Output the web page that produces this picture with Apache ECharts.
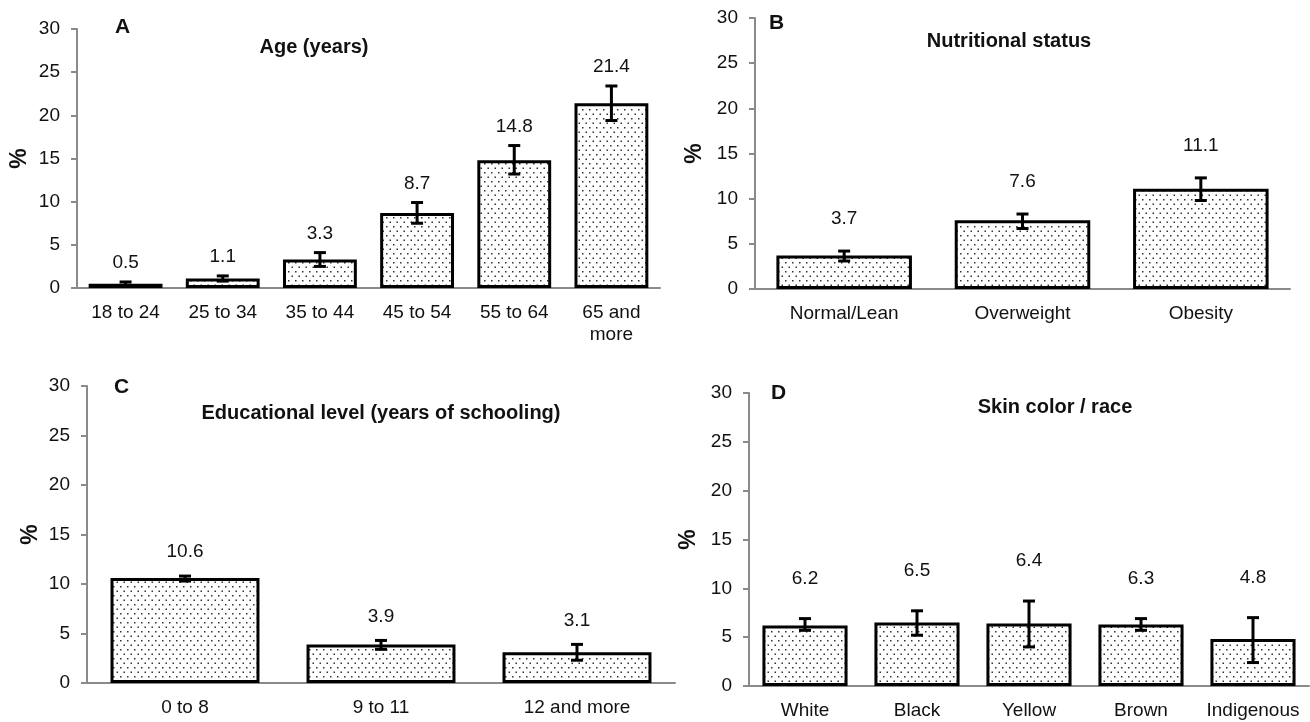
<!DOCTYPE html>
<html>
<head>
<meta charset="utf-8">
<script src="https://cdn.jsdelivr.net/npm/echarts@6/dist/echarts.min.js"></script>
<style>
html, body { margin: 0; padding: 0; background: #fff; }
#main { width: 1310px; height: 722px; }
</style>
</head>
<body>
<div id="main"></div>
<script>
// A - age
var ageCats = ['18 to 24', '25 to 34', '35 to 44', '45 to 54', '55 to 64', '65 and\nmore']
var ageVals = [0.5, 1.1, 3.3, 8.7, 14.8, 21.4]
var ageLow = [0.3, 0.8, 2.5, 7.5, 13.2, 19.4]
var ageHigh = [0.7, 1.4, 4.1, 9.9, 16.5, 23.4]
// B - nutritional status
var nutCats = ['Normal/Lean', 'Overweight', 'Obesity']
var nutVals = [3.7, 7.6, 11.1]
var nutLow = [3.1, 6.7, 9.8]
var nutHigh = [4.2, 8.3, 12.3]
// C - education
var eduCats = ['0 to 8', '9 to 11', '12 and more']
var eduVals = [10.6, 3.9, 3.1]
var eduLow = [10.3, 3.4, 2.3]
var eduHigh = [10.8, 4.3, 3.9]
// D - skin color
var raceCats = ['White', 'Black', 'Yellow', 'Brown', 'Indigenous']
var raceVals = [6.2, 6.5, 6.4, 6.3, 4.8]
var raceLow = [5.7, 5.2, 4.0, 5.7, 2.4]
var raceHigh = [6.9, 7.7, 8.7, 6.9, 7.0]

var yTicks = [0, 5, 10, 15, 20, 25, 30]

var FONT = 'Liberation Sans, Arial, sans-serif'
var axisGray = '#8a8a8a'

// dotted fill like the excel pattern
var tile = document.createElement('canvas')
tile.width = 7
tile.height = 9
var tc = tile.getContext('2d')
tc.fillStyle = '#ffffff'
tc.fillRect(0, 0, 7, 9)
tc.fillStyle = '#333'
tc.fillRect(1, 1, 1.5, 1.5)
tc.fillRect(4.5, 5.5, 1.5, 1.5)
var dots = { image: tile, repeat: 'repeat' }

var panels = [
  { cats: ageCats, vals: ageVals, low: ageLow, high: ageHigh, grid: { left: 77, top: 29, width: 583, height: 259 }, letter: 'A', letterPos: [110, 12], title: 'Age (years)', titleX: 309, titleY: 32, labelOff: 19, nameGap: 46 },
  { cats: nutCats, vals: nutVals, low: nutLow, high: nutHigh, grid: { left: 755, top: 18, width: 535, height: 271 }, letter: 'B', letterPos: [764, 8], title: 'Nutritional status', titleX: 1004, titleY: 26, labelOff: 32, nameGap: 49 },
  { cats: eduCats, vals: eduVals, low: eduLow, high: eduHigh, grid: { left: 87, top: 386, width: 588, height: 297 }, letter: 'C', letterPos: [109, 372], title: 'Educational level (years of schooling)', titleX: 376, titleY: 398, labelOff: 24, nameGap: 45 },
  { cats: raceCats, vals: raceVals, low: raceLow, high: raceHigh, grid: { left: 749, top: 393, width: 560, height: 294 }, letter: 'D', letterPos: [766, 378], title: 'Skin color / race', titleX: 1050, titleY: 392, labelOff: 40, nameGap: 49 }
]

function errorBars(off) {
  return function (params, api) {
    var i = api.value(0)
    var top = api.coord([i, api.value(1)])
    var bot = api.coord([i, api.value(2)])
    var cap = 6
    var ls = { stroke: '#000', lineWidth: 3 }
    return {
      type: 'group',
      children: [
        { type: 'line', shape: { x1: top[0], y1: top[1], x2: bot[0], y2: bot[1] }, style: ls },
        { type: 'line', shape: { x1: top[0] - cap, y1: top[1], x2: top[0] + cap, y2: top[1] }, style: ls },
        { type: 'line', shape: { x1: bot[0] - cap, y1: bot[1], x2: bot[0] + cap, y2: bot[1] }, style: ls },
        { type: 'text', style: { text: api.value(3).toFixed(1), x: top[0], y: top[1] - off, align: 'center', verticalAlign: 'middle', font: '19px ' + FONT, fill: '#111' } }
      ]
    }
  }
}

var option = { animation: false, grid: [], xAxis: [], yAxis: [], series: [], title: [] }

panels.forEach(function (p, k) {
  option.grid.push(p.grid)
  option.xAxis.push({
    type: 'category',
    gridIndex: k,
    data: p.cats,
    axisLine: { lineStyle: { color: axisGray, width: 2 } },
    axisTick: { length: 6, lineStyle: { color: axisGray, width: 2 } },
    axisLabel: { interval: 0, color: '#111', fontSize: 19, fontFamily: FONT, margin: 14, lineHeight: 22 }
  })
  option.yAxis.push({
    type: 'value',
    gridIndex: k,
    min: yTicks[0],
    max: yTicks[yTicks.length - 1],
    interval: 5,
    name: '%',
    nameLocation: 'middle',
    nameRotate: 90,
    nameGap: p.nameGap,
    nameTextStyle: { fontSize: 23, fontWeight: 'bold', fontFamily: FONT, color: '#111' },
    splitLine: { show: false },
    axisLine: { show: true, lineStyle: { color: axisGray, width: 2 } },
    axisTick: { show: true, length: 6, lineStyle: { color: axisGray, width: 2 } },
    axisLabel: { color: '#111', fontSize: 19, fontFamily: FONT, margin: 17 }
  })
  option.series.push({
    type: 'bar',
    xAxisIndex: k,
    yAxisIndex: k,
    data: p.vals,
    barWidth: '76%',
    itemStyle: { color: dots, borderColor: '#000', borderWidth: 3 }
  })
  option.series.push({
    type: 'custom',
    xAxisIndex: k,
    yAxisIndex: k,
    clip: false,
    z: 5,
    renderItem: errorBars(p.labelOff),
    data: p.cats.map(function (c, i) { return [i, p.high[i], p.low[i], p.vals[i]] })
  })
  option.title.push({
    text: p.letter,
    left: p.letterPos[0],
    top: p.letterPos[1],
    textStyle: { fontSize: 21, fontWeight: 'bold', fontFamily: FONT, color: '#111' }
  })
  option.title.push({
    text: p.title,
    left: p.titleX,
    top: p.titleY,
    textAlign: 'center',
    textStyle: { fontSize: 20, fontWeight: 'bold', fontFamily: FONT, color: '#111' }
  })
})

var myChart = echarts.init(document.getElementById('main'))
myChart.setOption(option)
</script>
</body>
</html>
